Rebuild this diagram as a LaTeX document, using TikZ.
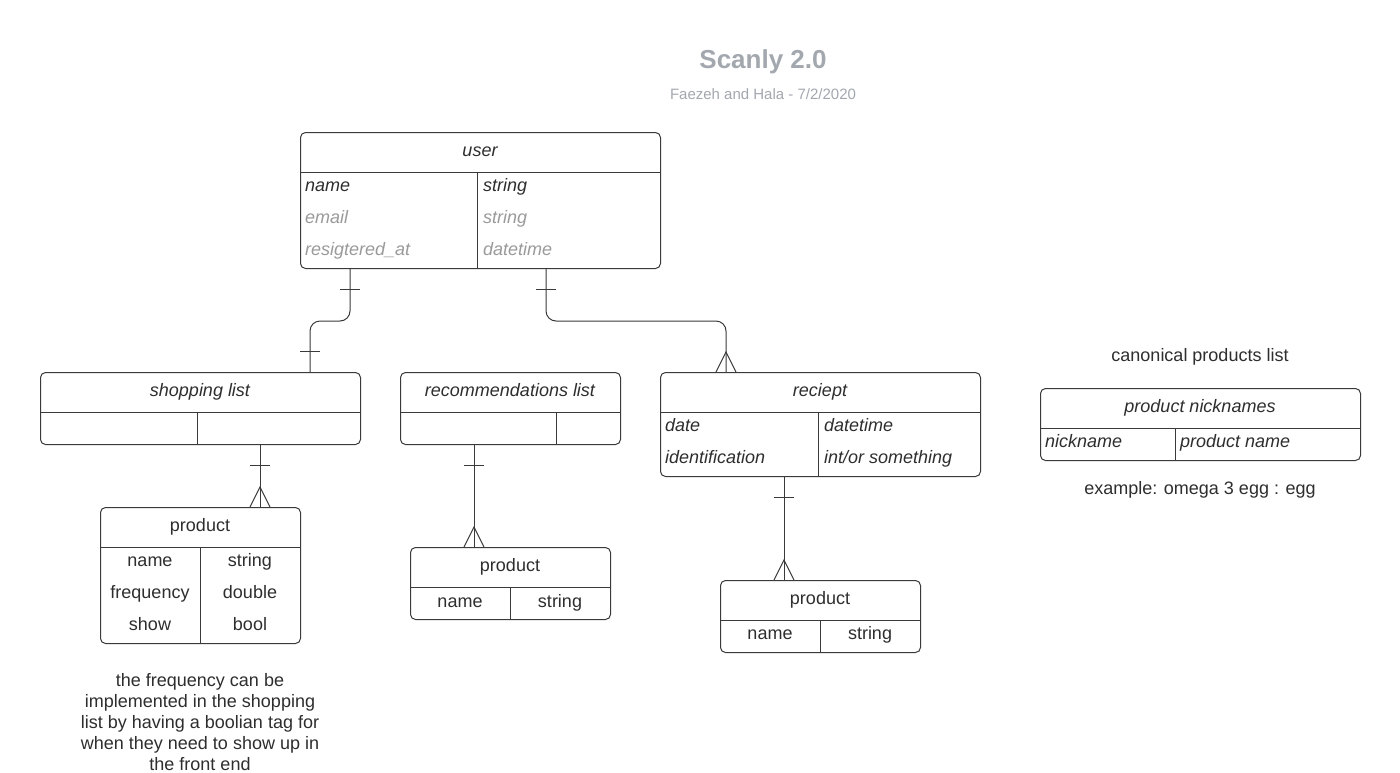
\documentclass[tikz,border=0pt]{standalone}
\usepackage{fontspec}
\setmainfont{Liberation Sans}
\usetikzlibrary{calc}
\definecolor{ln}{HTML}{3A3A3A}
\definecolor{tx}{HTML}{2E2E2E}
\definecolor{gr}{HTML}{9A9A9A}
\definecolor{ttl}{HTML}{A3A8AF}
\begin{document}
\begin{tikzpicture}[x=1pt,y=-1pt,
  box/.style={draw=ln, line width=1pt, rounded corners=5pt, inner sep=0pt, anchor=north west},
  sep/.style={draw=ln, line width=1pt},
  conn/.style={draw=ln, line width=1pt},
  txt/.style={font=\fontsize{18}{21}\selectfont, text=tx, inner sep=0pt, text height=15pt, text depth=2pt},
  it/.style={txt, font=\fontsize{18}{21}\selectfont\itshape},
  crow/.pic={\draw[conn] (-10,0) -- (0,-20) -- (10,0);},
  tick/.pic={\draw[conn] (-10,0) -- (10,0);}
]
\useasboundingbox (0,0) rectangle (1400,772);
\fill[white] (0,0) rectangle (1400,772);

% title
\node[font=\fontsize{26}{30}\selectfont\bfseries, text=ttl, inner sep=0pt] (title) at (763,62) {Scanly 2.0};
\node[font=\fontsize{15}{18}\selectfont, text=ttl, inner sep=0pt] (subtitle) at (763,94) {Faezeh and Hala - 7/2/2020};

% user
\node[box, minimum width=360pt, minimum height=136pt] (user) at (300,132) {};
\draw[sep] (300,172) -- (660,172);
\draw[sep] (477,172) -- (477,268);
\node[it] (userH) at (480,150) {user};
\node[it, anchor=west] (u1) at (305,185) {name};
\node[it, anchor=west] (u2) at (483,185) {string};
\node[it, anchor=west, text=gr] (u3) at (305,217) {email};
\node[it, anchor=west, text=gr] (u4) at (483,217) {string};
\node[it, anchor=west, text=gr] (u5) at (305,249) {resigtered\_at};
\node[it, anchor=west, text=gr] (u6) at (483,249) {datetime};

% shopping list
\node[box, minimum width=320pt, minimum height=72pt] (shop) at (40,372) {};
\draw[sep] (40,412) -- (360,412);
\draw[sep] (197,412) -- (197,444);
\node[it] (shopH) at (200,390) {shopping list};

% product 1
\node[box, minimum width=200pt, minimum height=136pt] (prod1) at (100,507) {};
\draw[sep] (100,547) -- (300,547);
\draw[sep] (200,547) -- (200,643);
\node[txt] (p1H) at (200,525) {product};
\node[txt] (p1a) at (150,560) {name};
\node[txt] (p1b) at (250,560) {string};
\node[txt] (p1c) at (150,592) {frequency};
\node[txt] (p1d) at (250,592) {double};
\node[txt] (p1e) at (150,624) {show};
\node[txt] (p1f) at (250,624) {bool};

% recommendations list
\node[box, minimum width=220pt, minimum height=72pt] (reco) at (400,372) {};
\draw[sep] (400,412) -- (620,412);
\draw[sep] (556,412) -- (556,444);
\node[it] (recoH) at (510,390) {recommendations list};

% product 2
\node[box, minimum width=200pt, minimum height=72pt] (prod2) at (410,547) {};
\draw[sep] (410,587) -- (610,587);
\draw[sep] (510,587) -- (510,619);
\node[txt] (p2H) at (510,565) {product};
\node[txt] (p2a) at (460,601) {name};
\node[txt] (p2b) at (560,601) {string};

% reciept
\node[box, minimum width=320pt, minimum height=104pt] (rec) at (660,372) {};
\draw[sep] (660,412) -- (980,412);
\draw[sep] (818,412) -- (818,476);
\node[it] (recH) at (820,390) {reciept};
\node[it, anchor=west] (r1) at (665,425) {date};
\node[it, anchor=west] (r2) at (824,425) {datetime};
\node[it, anchor=west] (r3) at (665,457) {identification};
\node[it, anchor=west] (r4) at (824,457) {int/or something};

% product 3
\node[box, minimum width=200pt, minimum height=72pt] (prod3) at (720,580) {};
\draw[sep] (720,620) -- (920,620);
\draw[sep] (820,620) -- (820,652);
\node[txt] (p3H) at (820,598) {product};
\node[txt] (p3a) at (770,633) {name};
\node[txt] (p3b) at (870,633) {string};

% canonical products
\node[txt] (canon) at (1200,355) {canonical products list};
\node[box, minimum width=320pt, minimum height=72pt] (nick) at (1040,388) {};
\draw[sep] (1040,428) -- (1360,428);
\draw[sep] (1175,428) -- (1175,460);
\node[it] (nickH) at (1200,406) {product nicknames};
\node[it, anchor=west] (n1) at (1045,441) {nickname};
\node[it, anchor=west] (n2) at (1180,441) {product name};
\node[txt] (example) at (1200,488) {example: omega 3 egg : egg};

% note
\node[font=\fontsize{18}{21}\selectfont, text=tx, inner sep=0pt, align=center] (note) at (200,722)
  {the frequency can be\\implemented in the shopping\\list by having a boolian tag for\\when they need to show up in\\the front end};

% connectors
\draw[conn, rounded corners=10pt] ([xshift=50pt]user.south west) -- ++(0,52) -| ([xshift=270pt]shop.north west);
\pic at ([xshift=50pt,yshift=-20pt]user.south west) {tick};
\pic at ([xshift=270pt,yshift=21pt]shop.north west) {tick};

\draw[conn, rounded corners=10pt] ([xshift=246pt]user.south west) -- ++(0,52) -| ([xshift=66pt]rec.north west);
\pic at ([xshift=246pt,yshift=-20pt]user.south west) {tick};
\pic at ([xshift=66pt]rec.north west) {crow};

\draw[conn] ([xshift=220pt]shop.south west) -- ([xshift=160pt]prod1.north west);
\pic at ([xshift=220pt,yshift=-20pt]shop.south west) {tick};
\pic at ([xshift=160pt]prod1.north west) {crow};

\draw[conn] ([xshift=74pt]reco.south west) -- ([xshift=64pt]prod2.north west);
\pic at ([xshift=74pt,yshift=-20pt]reco.south west) {tick};
\pic at ([xshift=64pt]prod2.north west) {crow};

\draw[conn] ([xshift=124pt]rec.south west) -- ([xshift=64pt]prod3.north west);
\pic at ([xshift=124pt,yshift=-20pt]rec.south west) {tick};
\pic at ([xshift=64pt]prod3.north west) {crow};
\end{tikzpicture}
\end{document}
